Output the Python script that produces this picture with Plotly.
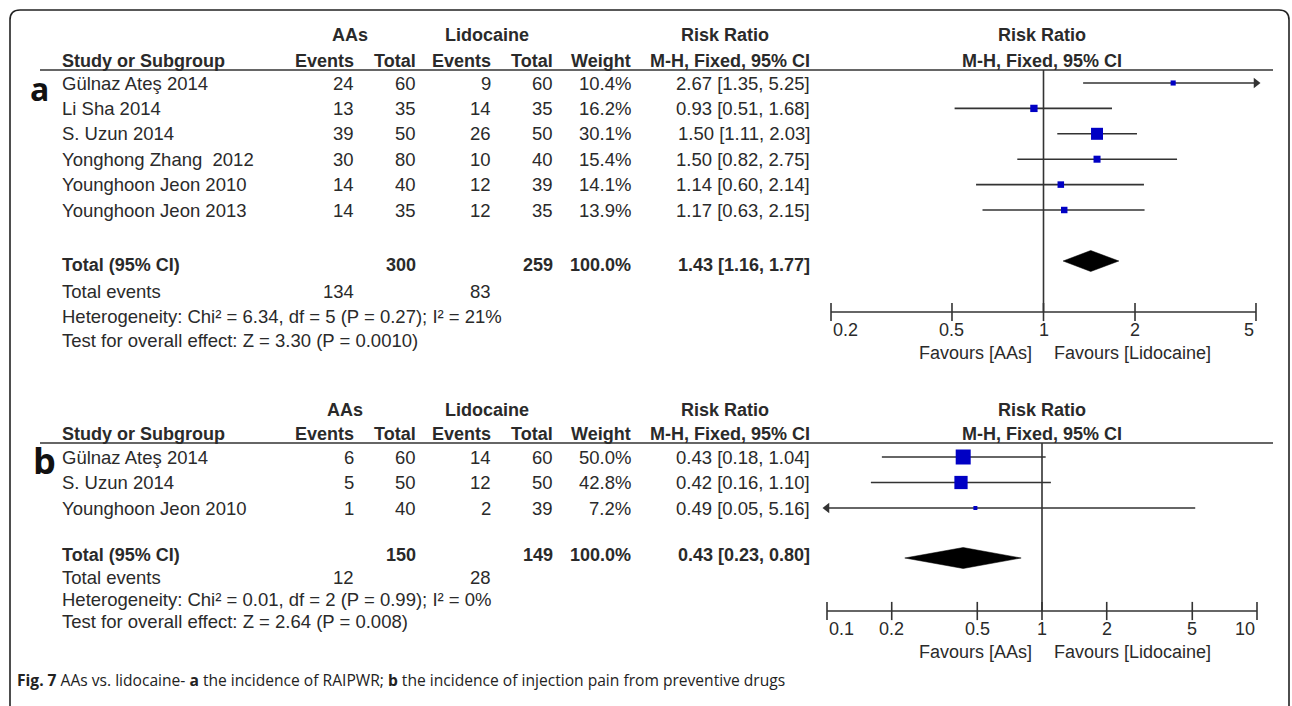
import math
import plotly.graph_objects as go

W, H = 1292, 706

# ---------------- data: panel a ----------------
studies_a = ["Gülnaz Ateş 2014", "Li Sha 2014", "S. Uzun 2014", "Yonghong Zhang\u00a0 2012",
             "Younghoon Jeon 2010", "Younghoon Jeon 2013"]
aas_events_a = [24, 13, 39, 30, 14, 14]
aas_total_a = [60, 35, 50, 80, 40, 35]
lid_events_a = [9, 14, 26, 10, 12, 12]
lid_total_a = [60, 35, 50, 40, 39, 35]
weight_a = [10.4, 16.2, 30.1, 15.4, 14.1, 13.9]
rr_a = [2.67, 0.93, 1.50, 1.50, 1.14, 1.17]
lo_a = [1.35, 0.51, 1.11, 0.82, 0.60, 0.63]
hi_a = [5.25, 1.68, 2.03, 2.75, 2.14, 2.15]
totals_a = [300, 259]
total_weight_a = "100.0%"
total_events_a = [134, 83]
pooled_a = [1.43, 1.16, 1.77]
het_a = "Heterogeneity: Chi² = 6.34, df = 5 (P = 0.27); I² = 21%"
test_a = "Test for overall effect: Z = 3.30 (P = 0.0010)"
ticks_a = [0.2, 0.5, 1, 2, 5]
tick_labels_a = ["0.2", "0.5", "1", "2", "5"]

# ---------------- data: panel b ----------------
studies_b = ["Gülnaz Ateş 2014", "S. Uzun 2014", "Younghoon Jeon 2010"]
aas_events_b = [6, 5, 1]
aas_total_b = [60, 50, 40]
lid_events_b = [14, 12, 2]
lid_total_b = [60, 50, 39]
weight_b = [50.0, 42.8, 7.2]
rr_b = [0.43, 0.42, 0.49]
lo_b = [0.18, 0.16, 0.05]
hi_b = [1.04, 1.10, 5.16]
totals_b = [150, 149]
total_weight_b = "100.0%"
total_events_b = [12, 28]
pooled_b = [0.43, 0.23, 0.80]
het_b = "Heterogeneity: Chi² = 0.01, df = 2 (P = 0.99); I² = 0%"
test_b = "Test for overall effect: Z = 2.64 (P = 0.008)"
ticks_b = [0.1, 0.2, 0.5, 1, 2, 5, 10]
tick_labels_b = ["0.1", "0.2", "0.5", "1", "2", "5", "10"]

caption = ("<b>Fig. 7</b> AAs vs. lidocaine- <b>a</b> the incidence of RAIPWR; "
           "<b>b</b> the incidence of injection pain from preventive drugs")

# ---------------- styling ----------------
FONT = "Liberation Sans, Arial, sans-serif"
FS = 18.5
FSB = 18
TC = "#2a2a2a"
LC = "#333333"
BLUE = "#0000c4"
COL = dict(ae=356, at=418, le=493, lt=555, w=633, ci=812)
NAME_X = 60
PLOT_X0, PLOT_X1 = 820, 1280

fig = go.Figure()
anns = []


def txt(x, y, s, anchor="left", size=None, bold=False, xref="paper", color=TC, family=FONT):
    if size is None:
        size = FSB if bold else FS
    if bold:
        s = f"<b>{s}</b>"
    anns.append(dict(x=x / W if xref == "paper" else x, y=y, xref=xref, yref="y", text=s,
                     showarrow=False, xanchor=anchor, yanchor="middle",
                     font=dict(size=size, color=color, family=family)))


def ci_str(r, l, h):
    return f"{r:.2f} [{l:.2f}, {h:.2f}]"


def panel(xa, studies, ae, at, le, lt, wt, rr, lo, hi, totals, tw, tev, pooled, het, test,
          ticks, tlabels, y_h1, y_h2, y_line, y_row0, dy, y_tot, y_dia, y_ev, y_het, y_test,
          y_axis, aas_cx, max_size):
    xref = "x" if xa == "x" else "x2"
    # headers
    txt(aas_cx, y_h1, "AAs", "center", bold=True)
    txt(487, y_h1, "Lidocaine", "center", bold=True)
    txt(725, y_h1, "Risk Ratio", "center", bold=True)
    txt(1042, y_h1, "Risk Ratio", "center", bold=True)
    txt(NAME_X, y_h2, "Study or Subgroup", "left", bold=True)
    txt(COL["ae"], y_h2, "Events", "right", bold=True)
    txt(COL["at"], y_h2, "Total", "right", bold=True)
    txt(COL["le"], y_h2, "Events", "right", bold=True)
    txt(COL["lt"], y_h2, "Total", "right", bold=True)
    txt(COL["w"], y_h2, "Weight", "right", bold=True)
    txt(COL["ci"], y_h2, "M-H, Fixed, 95% CI", "right", bold=True)
    txt(1042, y_h2, "M-H, Fixed, 95% CI", "center", bold=True)
    fig.add_shape(type="line", xref="paper", yref="y", x0=40 / W, x1=1273 / W,
                  y0=y_line, y1=y_line, line=dict(color=LC, width=1.6))

    rows = [y_row0 + i * dy for i in range(len(studies))]
    for i, y in enumerate(rows):
        txt(NAME_X, y, studies[i])
        txt(COL["ae"], y, str(ae[i]), "right")
        txt(COL["at"], y, str(at[i]), "right")
        txt(COL["le"], y, str(le[i]), "right")
        txt(COL["lt"], y, str(lt[i]), "right")
        txt(COL["w"], y, f"{wt[i]:.1f}%", "right")
        txt(COL["ci"], y, ci_str(rr[i], lo[i], hi[i]), "right")

    # totals block
    txt(NAME_X, y_tot, "Total (95% CI)", bold=True)
    txt(COL["at"], y_tot, str(totals[0]), "right", bold=True)
    txt(COL["lt"], y_tot, str(totals[1]), "right", bold=True)
    txt(COL["w"], y_tot, tw, "right", bold=True)
    txt(COL["ci"], y_tot, ci_str(*pooled), "right", bold=True)
    txt(NAME_X, y_ev, "Total events")
    txt(COL["ae"], y_ev, str(tev[0]), "right")
    txt(COL["le"], y_ev, str(tev[1]), "right")
    txt(NAME_X, y_het, het)
    txt(NAME_X, y_test, test)

    tmin, tmax = ticks[0], ticks[-1]
    # CI lines
    xs, ys = [], []
    for i, y in enumerate(rows):
        xs += [max(lo[i], tmin), min(hi[i], tmax), None]
        ys += [y, y, None]
    fig.add_trace(go.Scatter(x=xs, y=ys, xaxis=xa, yaxis="y", mode="lines",
                             line=dict(color=LC, width=1.6), hoverinfo="skip"))
    # arrows for clipped CIs
    ax_, ay_, asym = [], [], []
    for i, y in enumerate(rows):
        if hi[i] > tmax:
            ax_.append(tmax); ay_.append(y); asym.append("triangle-right")
        if lo[i] < tmin:
            ax_.append(tmin); ay_.append(y); asym.append("triangle-left")
    if ax_:
        fig.add_trace(go.Scatter(x=ax_, y=ay_, xaxis=xa, yaxis="y", mode="markers",
                                 marker=dict(symbol=asym, size=9, color=LC, opacity=1,
                                             line=dict(width=0)), hoverinfo="skip"))
    # squares
    wmax = max(wt)
    sizes = [max(4, max_size * (w / wmax) ** 0.8) for w in wt]
    fig.add_trace(go.Scatter(x=rr, y=rows, xaxis=xa, yaxis="y", mode="markers",
                             marker=dict(symbol="square", size=sizes, color=BLUE, opacity=1,
                                         line=dict(width=0)), hoverinfo="skip"))
    # diamond
    r, l, h = pooled
    dh = 10.5
    fig.add_trace(go.Scatter(x=[l, r, h, r, l], y=[y_dia, y_dia - dh, y_dia, y_dia + dh, y_dia],
                             xaxis=xa, yaxis="y", mode="lines", fill="toself",
                             fillcolor="black", line=dict(color="black", width=0.5),
                             hoverinfo="skip"))
    # line of no effect
    fig.add_trace(go.Scatter(x=[1, 1], y=[y_line, y_axis], xaxis=xa, yaxis="y", mode="lines",
                             line=dict(color=LC, width=1.6), hoverinfo="skip"))
    # axis line + ticks
    fig.add_trace(go.Scatter(x=[tmin, tmax], y=[y_axis, y_axis], xaxis=xa, yaxis="y",
                             mode="lines", line=dict(color=LC, width=1.6), hoverinfo="skip"))
    fig.add_trace(go.Scatter(x=ticks, y=[y_axis] * len(ticks), xaxis=xa, yaxis="y",
                             mode="markers",
                             marker=dict(symbol="line-ns", size=13, opacity=1,
                                         line=dict(color=LC, width=1.6)),
                             hoverinfo="skip"))
    n = len(ticks)
    for k, (t, lab) in enumerate(zip(ticks, tlabels)):
        anchor = "left" if k == 0 else ("right" if k == n - 1 else "center")
        txt(math.log10(t), y_axis + 18, lab, anchor, xref=xref, size=18)
    txt(1034, y_axis + 41, "Favours [AAs]", "right", size=18)
    txt(1052, y_axis + 41, "Favours [Lidocaine]", "left", size=18)


panel("x", studies_a, aas_events_a, aas_total_a, lid_events_a, lid_total_a, weight_a,
      rr_a, lo_a, hi_a, totals_a, total_weight_a, total_events_a, pooled_a, het_a, test_a,
      ticks_a, tick_labels_a,
      y_h1=35, y_h2=61, y_line=70, y_row0=83, dy=25.4, y_tot=265, y_dia=261, y_ev=291,
      y_het=316, y_test=340, y_axis=312, aas_cx=350, max_size=12)

panel("x2", studies_b, aas_events_b, aas_total_b, lid_events_b, lid_total_b, weight_b,
      rr_b, lo_b, hi_b, totals_b, total_weight_b, total_events_b, pooled_b, het_b, test_b,
      ticks_b, tick_labels_b,
      y_h1=410, y_h2=434, y_line=443, y_row0=457, dy=25.5, y_tot=555, y_dia=558, y_ev=577,
      y_het=599, y_test=621, y_axis=611, aas_cx=345, max_size=15)

# panel letters
anns.append(dict(x=39 / W, y=88, xref="paper", yref="y", text="<b>a</b>", showarrow=False,
                 xanchor="center", yanchor="middle",
                 font=dict(size=32, color="#111", family="Open Sans, sans-serif")))
anns.append(dict(x=44 / W, y=460, xref="paper", yref="y", text="<b>b</b>", showarrow=False,
                 xanchor="center", yanchor="middle",
                 font=dict(size=36, color="#111", family="Open Sans, sans-serif")))

# caption
anns.append(dict(x=15 / W, y=680, xref="paper", yref="y", text=caption, showarrow=False,
                 xanchor="left", yanchor="middle",
                 font=dict(size=15.6, color="#222", family="Open Sans, sans-serif")))

# outer rounded frame
x0, x1, yt, yb, rad = 10 / W, 1289 / W, 10, 720, 10
rx = rad / W
fig.add_shape(type="path", xref="paper", yref="y",
              path=(f"M {x0},{yb} L {x0},{yt + rad} Q {x0},{yt} {x0 + rx},{yt} "
                    f"L {x1 - rx},{yt} Q {x1},{yt} {x1},{yt + rad} L {x1},{yb}"),
              line=dict(color="#222", width=1.6))


# axes: log-scaled risk-ratio axes mapped onto the forest-plot area
def log_range(center_px, px_per_dec):
    return [(PLOT_X0 - center_px) / px_per_dec, (PLOT_X1 - center_px) / px_per_dec]


fig.update_layout(
    width=W, height=H, margin=dict(l=0, r=0, t=0, b=0),
    paper_bgcolor="white", plot_bgcolor="white", showlegend=False,
    annotations=anns,
    xaxis=dict(type="log", domain=[PLOT_X0 / W, PLOT_X1 / W], range=log_range(1043.5, 304),
               visible=False, anchor="y"),
    xaxis2=dict(type="log", domain=[PLOT_X0 / W, PLOT_X1 / W], range=log_range(1042, 215),
                visible=False, anchor="y", overlaying="x"),
    yaxis=dict(range=[H, 0], domain=[0, 1], visible=False),
)

fig.write_html("out.html", config={"displayModeBar": False},
               post_script="document.body.style.margin='0';document.body.style.overflow='hidden';")
